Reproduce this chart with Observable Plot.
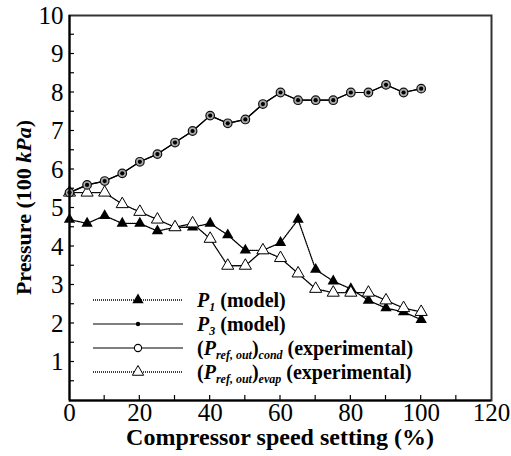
<!DOCTYPE html>
<html>
<head>
<meta charset="utf-8">
<script src="https://cdn.jsdelivr.net/npm/d3@7"></script>
<script src="https://cdn.jsdelivr.net/npm/@observablehq/plot@0.6"></script>
<style>
  html, body { margin: 0; padding: 0; background: #fff; }
  #chart svg { display: block; }
</style>
</head>
<body>
<div id="chart"></div>
<script>
// Compressor speed setting (%)
const speed = [0, 5, 10, 15, 20, 25, 30, 35, 40, 45, 50, 55, 60, 65, 70, 75, 80, 85, 90, 95, 100];
// P1 (model), 100 kPa
const p1Model = [4.7, 4.6, 4.8, 4.6, 4.6, 4.4, 4.5, 4.5, 4.6, 4.3, 3.9, 3.9, 4.1, 4.7, 3.4, 3.1, 2.9, 2.6, 2.4, 2.3, 2.1];
// P3 (model), 100 kPa
const p3Model = [5.4, 5.6, 5.7, 5.9, 6.2, 6.4, 6.7, 7.0, 7.4, 7.2, 7.3, 7.7, 8.0, 7.8, 7.8, 7.8, 8.0, 8.0, 8.2, 8.0, 8.1];
// (P_ref,out)_cond experimental
const condExp = [5.4, 5.6, 5.7, 5.9, 6.2, 6.4, 6.7, 7.0, 7.4, 7.2, 7.3, 7.7, 8.0, 7.8, 7.8, 7.8, 8.0, 8.0, 8.2, 8.0, 8.1];
// (P_ref,out)_evap experimental
const evapExp = [5.4, 5.4, 5.4, 5.1, 4.9, 4.7, 4.5, 4.6, 4.2, 3.5, 3.5, 3.9, 3.7, 3.3, 2.9, 2.8, 2.8, 2.8, 2.6, 2.4, 2.3];

const xTicks = [0, 20, 40, 60, 80, 100, 120];
const xMinor = [10, 30, 50, 70, 90, 110];
const yTicks = [1, 2, 3, 4, 5, 6, 7, 8, 9, 10];
const yMinor = [0.5, 1.5, 2.5, 3.5, 4.5, 5.5, 6.5, 7.5, 8.5, 9.5];

const rows = (ys) => speed.map((x, i) => ({x, y: ys[i]}));
const dP1 = rows(p1Model), dP3 = rows(p3Model), dCond = rows(condExp), dEvap = rows(evapExp);

const FONT = "Liberation Serif";

const plot = Plot.plot({
  width: 511,
  height: 456,
  marginLeft: 69,
  marginRight: 20,
  marginTop: 15,
  marginBottom: 56,
  style: {fontFamily: FONT, fontSize: "25px", background: "#fff", color: "#000"},
  x: {domain: [0, 120]},
  y: {domain: [0, 10]},
  marks: [
    Plot.axisX({ticks: xTicks, tickSize: 0, tickPadding: 3, label: null, tickFormat: d => String(d)}),
    Plot.axisY({ticks: yTicks, tickSize: 0, tickPadding: 6, label: null, tickFormat: d => String(d)}),
    Plot.line(dP1, {x: "x", y: "y", stroke: "#000", strokeWidth: 1.3, strokeDasharray: "1,1"}),
    Plot.line(dEvap, {x: "x", y: "y", stroke: "#000", strokeWidth: 1.3, strokeDasharray: "1,1"}),
    Plot.line(dP3, {x: "x", y: "y", stroke: "#000", strokeWidth: 1.2}),
    Plot.line(dCond, {x: "x", y: "y", stroke: "#000", strokeWidth: 1.2}),
    Plot.dot(dP1, {x: "x", y: "y", symbol: "triangle", r: 4.2, fill: "#000", stroke: "none"}),
    Plot.dot(dEvap, {x: "x", y: "y", symbol: "triangle", r: 4.5, fill: "#fff", stroke: "#000", strokeWidth: 1}),
    Plot.dot(dCond, {x: "x", y: "y", symbol: "circle", r: 4.3, fill: "#aaa", stroke: "#111", strokeWidth: 1.2}),
    Plot.dot(dP3, {x: "x", y: "y", symbol: "circle", r: 2.1, fill: "#000", stroke: "none"}),
    Plot.frame({stroke: "#333", strokeWidth: 2}),
    Plot.ruleX([0], {stroke: "#000", strokeWidth: 2}),
    Plot.ruleY([0], {stroke: "#000", strokeWidth: 2})
  ]
});

document.getElementById("chart").appendChild(plot);

const svg = d3.select(plot);
svg.selectAll("text").attr("font-family", FONT);
const sx = plot.scale("x"), sy = plot.scale("y");
const X = v => sx.apply(v), Y = v => sy.apply(v);
const x0 = X(0), y0 = Y(0);

// inward ticks
const tg = svg.append("g").attr("stroke", "#000").attr("stroke-width", 1.2);
xTicks.concat(xMinor).filter(v => v > 0 && v < 120).forEach(v => {
  tg.append("line").attr("x1", X(v)).attr("x2", X(v)).attr("y1", y0).attr("y2", y0 - 5);
});
yTicks.concat(yMinor).filter(v => v > 0 && v < 10).forEach(v => {
  tg.append("line").attr("x1", x0).attr("x2", x0 + 5).attr("y1", Y(v)).attr("y2", Y(v));
});

// axis titles
const midX = (X(0) + X(120)) / 2;
const midY = (Y(0) + Y(10)) / 2;
svg.append("text")
  .attr("x", midX).attr("y", 445)
  .attr("text-anchor", "middle")
  .attr("font-family", FONT).attr("font-weight", "bold").attr("font-size", 24)
  .text("Compressor speed setting (%)");

const yt = svg.append("text")
  .attr("transform", `translate(31,${midY}) rotate(-90)`)
  .attr("text-anchor", "middle")
  .attr("font-family", FONT).attr("font-weight", "bold").attr("font-size", 22);
yt.append("tspan").text("Pressure (100 ");
yt.append("tspan").attr("font-style", "italic").text("kPa");
yt.append("tspan").text(")");

// legend
const legendItems = [
  {dash: "1,1", marker: "ftri", parts: [["P", "i"], ["1", "is"], [" (model)", ""]]},
  {dash: null, marker: "dot", parts: [["P", "i"], ["3", "is"], [" (model)", ""]]},
  {dash: null, marker: "circ", parts: [["(", ""], ["P", "i"], ["ref, out", "is"], [")", ""], ["cond", "is"], [" (experimental)", ""]]},
  {dash: "1,1", marker: "otri", parts: [["(", ""], ["P", "i"], ["ref, out", "is"], [")", ""], ["evap", "is"], [" (experimental)", ""]]}
];
const legendY = [300, 324, 348, 372];
const lg = svg.append("g");
const triPath = d3.symbol(d3.symbolTriangle, 55)();
legendItems.forEach((it, i) => {
  const cy = legendY[i];
  lg.append("line").attr("x1", 93).attr("x2", 183).attr("y1", cy).attr("y2", cy)
    .attr("stroke", "#000").attr("stroke-width", it.dash ? 1.3 : 1.2)
    .attr("stroke-dasharray", it.dash);
  if (it.marker === "ftri") {
    lg.append("path").attr("d", triPath).attr("transform", `translate(138,${cy})`).attr("fill", "#000");
  } else if (it.marker === "otri") {
    lg.append("path").attr("d", triPath).attr("transform", `translate(138,${cy})`).attr("fill", "#fff").attr("stroke", "#000");
  } else if (it.marker === "dot") {
    lg.append("circle").attr("cx", 138).attr("cy", cy).attr("r", 2.2).attr("fill", "#000");
  } else {
    lg.append("circle").attr("cx", 138).attr("cy", cy).attr("r", 3.6).attr("fill", "#fff").attr("stroke", "#000").attr("stroke-width", 1.1);
  }
  const t = lg.append("text").attr("x", 197).attr("y", cy + 7)
    .attr("text-anchor", "start")
    .attr("font-family", FONT)
    .attr("font-weight", "bold").attr("font-size", 20);
  let shifted = false;
  it.parts.forEach(([s, st]) => {
    const sp = t.append("tspan").text(s);
    if (st.includes("i")) sp.attr("font-style", "italic");
    if (st.includes("s")) {
      sp.attr("font-size", 12);
      if (!shifted) { sp.attr("dy", 4); shifted = true; }
    } else if (shifted) {
      sp.attr("dy", -4); shifted = false;
    }
  });
});
</script>
</body>
</html>
